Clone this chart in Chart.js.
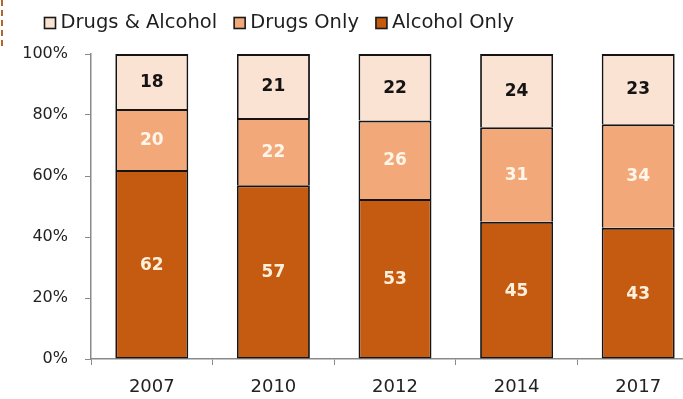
<!DOCTYPE html>
<html>
<head>
<meta charset="utf-8">
<script src="https://cdn.jsdelivr.net/npm/chart.js@4"></script>
<style>
  body { margin: 0; background: #fff; overflow: hidden; }
  #wrap { position: relative; width: 700px; height: 399px; }
  #edge { position: absolute; left: 1px; top: 0; height: 46px; border-left: 2px dashed #b5652a; }
</style>
</head>
<body>
<div id="wrap">
  <div id="edge"></div>
  <canvas id="myStackBarChart"></canvas>
</div>
<script>
// survey years
const years = ['2007', '2010', '2012', '2014', '2017'];

// share of each group, percent (rounded, so a year may not add to exactly 100)
const alcoholOnly = [62, 57, 53, 45, 43];
const drugsOnly = [20, 22, 26, 31, 34];
const drugsAndAlcohol = [18, 21, 22, 24, 23];

const yTicks = [0, 20, 40, 60, 80, 100];

const fontFamily = '"DejaVu Sans", sans-serif';

// 100% stacked: each year is scaled to its own total
const totals = years.map((y, i) => alcoholOnly[i] + drugsOnly[i] + drugsAndAlcohol[i]);
const share = arr => arr.map((v, i) => v / totals[i] * 100);

// writes the value in the middle of each bar segment
const segmentLabels = {
    id: 'segmentLabels',
    afterDatasetsDraw(chart) {
        const ctx = chart.ctx;
        ctx.save();
        ctx.font = 'bold 17px ' + fontFamily;
        ctx.textAlign = 'center';
        ctx.textBaseline = 'middle';
        chart.data.datasets.forEach((ds, i) => {
            const meta = chart.getDatasetMeta(i);
            meta.data.forEach((bar, j) => {
                const mid = (bar.y + bar.base) / 2;
                ctx.fillStyle = ds.labelColor;
                ctx.fillText(ds.raw[j], bar.x, mid + 1);
            });
        });
        ctx.restore();
    }
};

// legend row above the plot, drawn by hand for tighter spacing
const topLegend = {
    id: 'topLegend',
    afterDraw(chart) {
        const ctx = chart.ctx;
        const items = chart.data.datasets.slice().reverse();
        let x = 44.5;
        const y = 23;
        ctx.save();
        ctx.font = '19.5px ' + fontFamily;
        ctx.textBaseline = 'middle';
        items.forEach(ds => {
            ctx.fillStyle = ds.backgroundColor;
            ctx.fillRect(x, y - 5.5, 11, 11);
            ctx.strokeStyle = '#1a1a1a';
            ctx.lineWidth = 1.6;
            ctx.strokeRect(x, y - 5.5, 11, 11);
            ctx.fillStyle = '#1e1e1e';
            ctx.fillText(ds.label, x + 16, y);
            x += 16 + ctx.measureText(ds.label).width + 17;
        });
        ctx.restore();
    }
};

const chartData = {
    labels: years,
    datasets: [
        {
            label: 'Alcohol Only',
            data: share(alcoholOnly),
            raw: alcoholOnly,
            backgroundColor: '#c55a11',
            labelColor: '#fff0dc',
            borderWidth: { top: 2, bottom: 1.5, left: 1.8, right: 1.8 }
        },
        {
            label: 'Drugs Only',
            data: share(drugsOnly),
            raw: drugsOnly,
            backgroundColor: '#f2a878',
            labelColor: '#fff6ea',
            borderWidth: { top: 2, bottom: 0, left: 1.8, right: 1.8 }
        },
        {
            label: 'Drugs & Alcohol',
            data: share(drugsAndAlcohol),
            raw: drugsAndAlcohol,
            backgroundColor: '#fbe3d4',
            labelColor: '#141414',
            borderWidth: { top: 2, bottom: 0, left: 1.8, right: 1.8 }
        }
    ]
};

const config = {
    type: 'bar',
    data: chartData,
    options: {
        responsive: true,
        maintainAspectRatio: false,
        animation: false,
        layout: { padding: { top: 54, left: 0, right: 1, bottom: 0 } },
        datasets: {
            bar: {
                barPercentage: 0.6,
                categoryPercentage: 1.0,
                borderColor: '#141414',
                borderSkipped: false
            }
        },
        plugins: {
            legend: { display: false },
            tooltip: { enabled: false }
        },
        scales: {
            x: {
                stacked: true,
                afterFit(scale) { scale.height = 40; },
                grid: {
                    drawOnChartArea: false,
                    tickLength: 6,
                    color: '#8a8a8a'
                },
                border: { color: '#8a8a8a', width: 1.5 },
                ticks: {
                    color: '#222',
                    padding: 12,
                    font: { family: fontFamily, size: 18 }
                }
            },
            y: {
                stacked: true,
                min: 0,
                max: 100,
                afterFit(scale) { scale.width = 91; },
                afterBuildTicks(scale) {
                    scale.ticks = yTicks.map(v => ({ value: v }));
                },
                grid: {
                    drawOnChartArea: false,
                    tickLength: 6,
                    color: '#8a8a8a'
                },
                border: { color: '#8a8a8a', width: 1.5 },
                ticks: {
                    color: '#222',
                    padding: 17,
                    font: { family: fontFamily, size: 16 },
                    callback: v => v + '%'
                }
            }
        }
    },
    plugins: [segmentLabels, topLegend]
};

const ctx = document.getElementById('myStackBarChart').getContext('2d');
const myChart = new Chart(ctx, config);
</script>
</body>
</html>
